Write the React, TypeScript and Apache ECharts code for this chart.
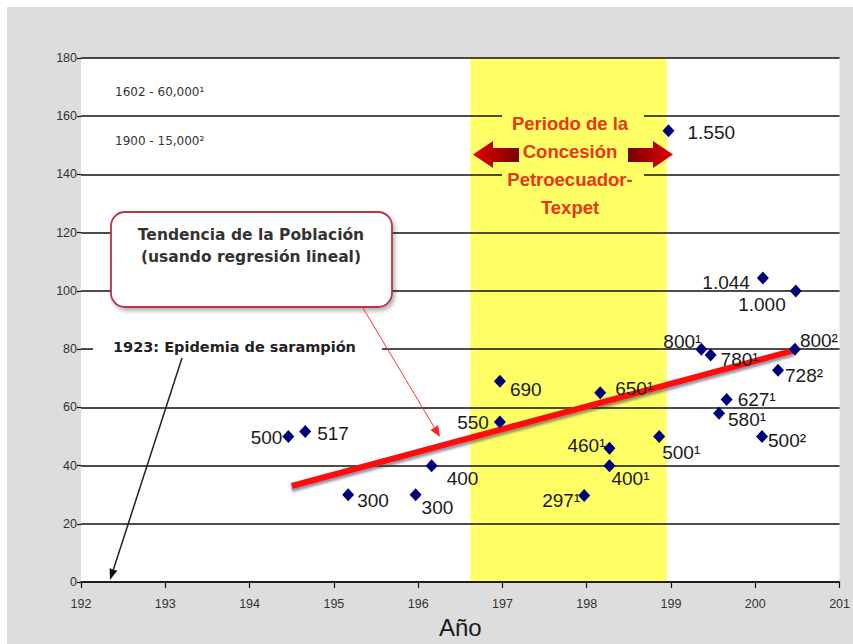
import React, { useEffect, useRef } from "react";
import * as echarts from "echarts";

// ---- data (x in decades: 195 = 1950s; y = population / 10) ----
const years = [194.46, 194.66, 195.17, 195.97, 196.16, 196.97, 196.97, 198.16, 198.27, 198.27, 197.97, 198.86, 198.97, 199.36, 199.47, 199.57, 199.66, 200.09, 200.48, 200.47, 200.27, 200.08];
const population = [50, 51.7, 30, 30, 40, 55, 69, 65, 46, 40, 29.7, 50, 155, 80, 78, 58, 62.7, 104.4, 100, 80, 72.8, 50];
const pointLabels = ["500", "517", "300", "300", "400", "550", "690", "650¹", "460¹", "400¹", "297¹", "500¹", "1.550", "800¹", "780¹", "580¹", "627¹", "1.044", "1.000", "800²", "728²", "500²"];
const trendYears = [194.5, 200.45];
const trendValues = [33, 79.5];
const concessionPeriod = [196.62, 198.95];
const xMin = 192;
const xMax = 201;
const yMin = 0;
const yMax = 180;

// label placement for each point: [side, dx, dy]
const labelPlacement: [string, number, number][] = [
  ["left", 0, 1], ["right", 6, 2], ["right", 3, 6], ["right", 0, 13], ["right", 9, 13],
  ["left", -5, 1], ["right", 4, 8], ["right", 9, -4], ["left", 2, -3], ["right", -4, 13],
  ["left", 2, 5], ["right", -3, 16], ["right", 13, 2], ["left", 6, -8], ["right", 4, 5],
  ["right", 3, 6], ["right", 5, 0], ["left", -7, 4], ["left", -4, 14], ["right", -1, -9],
  ["right", 1, 5], ["right", 0, 4],
];

const YELLOW = "#ffff66";

export default function App() {
  const ref = useRef<HTMLDivElement>(null);
  useEffect(() => {
    if (!ref.current) return;
    const chart = echarts.init(ref.current, undefined, { renderer: "svg" });
    const scatterData = years.map((x, i) => ({
      value: [x, population[i]],
      label: {
        show: true,
        formatter: pointLabels[i],
        position: labelPlacement[i][0],
        offset: [labelPlacement[i][1], labelPlacement[i][2]],
        distance: 0,
      },
    }));
    const arrowGradL = new echarts.graphic.LinearGradient(0, 0, 1, 0, [
      { offset: 0, color: "#e60000" },
      { offset: 1, color: "#7a0000" },
    ]);
    const arrowGradR = new echarts.graphic.LinearGradient(0, 0, 1, 0, [
      { offset: 0, color: "#7a0000" },
      { offset: 1, color: "#e60000" },
    ]);
    chart.setOption({
      animation: false,
      textStyle: { fontFamily: "Liberation Sans, Arial, sans-serif" },
      grid: {
        left: 74,
        right: 11,
        top: 51,
        bottom: 61,
        show: true,
        backgroundColor: "#ffffff",
        borderWidth: 0,
      },
      xAxis: {
        type: "value",
        min: xMin,
        max: xMax,
        interval: 1,
        name: "Año",
        nameLocation: "middle",
        nameGap: 28,
        nameTextStyle: { fontSize: 24, color: "#1a1a1a", fontFamily: "Liberation Sans, Arial, sans-serif" },
        axisLine: { show: true, lineStyle: { color: "#111", width: 1.5 } },
        axisTick: { show: true, length: 6, lineStyle: { color: "#111", width: 1.2 } },
        axisLabel: { fontSize: 12.5, color: "#333", margin: 15, showMaxLabel: true, showMinLabel: true },
        splitLine: { show: false },
        z: 2,
      },
      yAxis: {
        type: "value",
        min: yMin,
        max: yMax,
        interval: 20,
        axisLine: { show: false },
        axisTick: { show: true, length: 4, lineStyle: { color: "#111", width: 1.2 } },
        axisLabel: { fontSize: 12.5, color: "#333", margin: 4 },
        splitLine: { show: true, lineStyle: { color: "#111", width: 1.5 } },
        z: 2,
      },
      series: [
        {
          type: "line",
          data: [],
          z: 1,
          silent: true,
          markArea: {
            silent: true,
            itemStyle: { color: YELLOW, opacity: 1 },
            data: [[{ xAxis: concessionPeriod[0] }, { xAxis: concessionPeriod[1] }]],
          },
        },
        {
          type: "line",
          data: trendYears.map((x, i) => [x, trendValues[i]]),
          symbol: "none",
          z: 3,
          lineStyle: {
            color: "#ff1010",
            width: 6,
            cap: "butt",
            shadowColor: "rgba(40,40,80,0.5)",
            shadowBlur: 2,
            shadowOffsetY: 3,
          },
        },
        {
          type: "scatter",
          data: scatterData,
          symbol: "diamond",
          symbolSize: [12, 13],
          z: 4,
          itemStyle: { color: "#00007a", opacity: 1 },
          label: { fontSize: 19, color: "#1a1a1a", fontFamily: "Liberation Sans, Arial, sans-serif" },
        },
      ],
      graphic: [
        // top-left notes
        {
          type: "text", left: 108, top: 79, z: 10,
          style: { text: "1602 - 60,000¹", fontSize: 12, fill: "#333", fontFamily: "DejaVu Sans, sans-serif" },
        },
        {
          type: "text", left: 108, top: 128, z: 10,
          style: { text: "1900 - 15,000²", fontSize: 12, fill: "#333", fontFamily: "DejaVu Sans, sans-serif" },
        },
        // concession block
        { type: "rect", z: 10, shape: { x: 495, y: 103, width: 142, height: 110 }, style: { fill: YELLOW } },
        {
          type: "text", z: 11, x: 563, y: 102,
          style: {
            text: "Periodo de la\nConcesión\nPetroecuador-\nTexpet",
            fontSize: 18.5, fontWeight: "bold", lineHeight: 28,
            fontFamily: "Liberation Sans, Arial, sans-serif",
            fill: "#e8361a", align: "center", verticalAlign: "top",
          },
        },
        {
          type: "polygon", z: 11,
          shape: { points: [[466, 147.5], [486, 134], [486, 141], [512, 141], [512, 155], [486, 155], [486, 161]] },
          style: { fill: arrowGradL },
        },
        {
          type: "polygon", z: 11,
          shape: { points: [[666, 147.5], [646, 134], [646, 141], [621, 141], [621, 155], [646, 155], [646, 161]] },
          style: { fill: arrowGradR },
        },
        // trend callout
        {
          type: "rect", z: 10,
          shape: { x: 104, y: 205, width: 281, height: 95, r: 14 },
          style: {
            fill: "#ffffff", stroke: "#b8344a", lineWidth: 1.8,
            shadowColor: "rgba(0,0,0,0.3)", shadowBlur: 4, shadowOffsetX: 2, shadowOffsetY: 3,
          },
        },
        {
          type: "text", z: 11, x: 244, y: 228,
          style: {
            text: "Tendencia de la Población", fontSize: 15.5, fontWeight: "bold",
            fontFamily: "DejaVu Sans, sans-serif", fill: "#333", align: "center", verticalAlign: "middle",
          },
        },
        {
          type: "text", z: 11, x: 244, y: 250,
          style: {
            text: "(usando regresión lineal)", fontSize: 15.5, fontWeight: "bold",
            fontFamily: "DejaVu Sans, sans-serif", fill: "#333", align: "center", verticalAlign: "middle",
          },
        },
        {
          type: "line", z: 11,
          shape: { x1: 356, y1: 301, x2: 427.4, y2: 420.5 },
          style: { stroke: "#ff3030", lineWidth: 1 },
        },
        {
          type: "polygon", z: 11,
          shape: { points: [[433, 430], [423.5, 422.9], [431.2, 418.2]] },
          style: { fill: "#ff2020" },
        },
        // epidemic note
        { type: "rect", z: 10, shape: { x: 86, y: 331, width: 289, height: 20 }, style: { fill: "#ffffff" } },
        {
          type: "text", z: 11, x: 106, y: 340,
          style: {
            text: "1923: Epidemia de sarampión", fontSize: 14.5, fontWeight: "bold",
            fontFamily: "DejaVu Sans, sans-serif", fill: "#222", align: "left", verticalAlign: "middle",
          },
        },
        {
          type: "line", z: 11,
          shape: { x1: 175, y1: 351, x2: 106.4, y2: 562.5 },
          style: { stroke: "#222", lineWidth: 1.5 },
        },
        {
          type: "polygon", z: 11,
          shape: { points: [[103, 573], [110.2, 563.8], [102.6, 561.3]] },
          style: { fill: "#111" },
        },
      ],
    });
    return () => chart.dispose();
  }, []);
  return (
    <div
      ref={ref}
      style={{ position: "fixed", left: 7, top: 7, width: 846, height: 637, background: "#dddddd" }}
    />
  );
}
